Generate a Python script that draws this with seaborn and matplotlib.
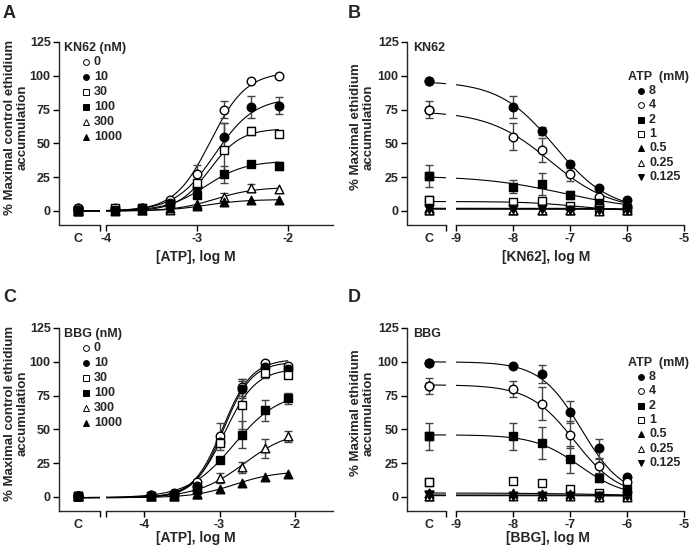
import numpy as np
import matplotlib
matplotlib.use("Agg")
import matplotlib.pyplot as plt
from matplotlib.lines import Line2D
import seaborn as sns

# ---- data ----
# x positions (log M); the control "C" point is shown on a separate axis segment
atp_x = [-3.9, -3.6, -3.3, -3.0, -2.7, -2.4, -2.1]
antag_x = [-8.0, -7.5, -7.0, -6.5, -6.0]

a_labels = ['0', '10', '30', '100', '300', '1000']
a_mean = [[2, 2, 2, 8, 27, 75, 96, 100],
          [0.5, 1, 2, 6, 18, 55, 77, 78],
          [1, 2, 2, 5, 21, 45, 59, 57],
          [1, 1, 2, 5, 12, 27, 35, 33],
          [0.5, 0.5, 1, 1, 5, 10, 17, 16],
          [0, 0, 1, 2, 4, 7, 8, 8]]
a_err = [[0, 0, 0, 0, 7, 6, 0, 0],
         [0, 0, 0, 0, 0, 10, 8, 6],
         [0, 0, 0, 0, 0, 20, 3, 0],
         [0, 0, 0, 0, 0, 6, 2, 3],
         [0, 0, 0, 0, 0, 3, 3, 0],
         [0, 0, 0, 0, 0, 0, 0, 0]]
# fitted curves: bottom, top, logEC50, hill slope
a_fit = [(0, 103, -2.85, 2.2), (0, 84, -2.8, 2.0), (0, 61, -2.86, 2.5),
         (0, 37, -2.9, 2.0), (0, 17.5, -2.8, 2.0), (0, 8.5, -2.9, 2.0)]

b_labels = ['8', '4', '2', '1', '0.5', '0.25', '0.125']
b_mean = [[96, 77, 59, 35, 17, 8],
          [75, 55, 45, 27, 10, 3],
          [26, 18, 20, 12, 6, 2],
          [8, 6.5, 7.5, 4, 2, 1],
          [2, 1, 1, 1, 1, 1],
          [1, 1, 1, 1, 0, 0.5],
          [1.5, 1.5, 1.5, 1, 1, 1]]
b_err = [[0, 8, 3, 2, 0, 0],
         [6, 10, 9, 5, 0, 0],
         [8, 5, 8, 3, 0, 0],
         [2, 0, 0, 0, 0, 0],
         [0, 0, 0, 0, 0, 0],
         [0, 0, 0, 0, 0, 0],
         [0, 0, 0, 0, 0, 0]]
# inhibition curves: top, logIC50, hill slope
b_fit = [(96, -7.27, 0.9), (74, -7.35, 0.8), (26, -7.1, 0.6), (7, -6.9, 1.0),
         (2, -5.5, 1.0), (1.5, -5.5, 1.0), (1.5, -5.5, 1.0)]

c_labels = ['0', '10', '30', '100', '300', '1000']
c_mean = [[0.5, 1.5, 3, 11, 45, 81, 99, 97],
          [0.5, 1.5, 2.5, 8, 41, 80, 96, 95],
          [0.5, 1, 1, 6, 40, 68, 92, 90],
          [0.5, 1, 1.5, 5, 27, 46, 64, 73],
          [0.5, 1, 1, 2, 14, 22, 36, 45],
          [0.5, 1, 1, 2, 6, 10, 15, 17]]
c_err = [[0, 0, 0, 0, 10, 6, 0, 0],
         [0, 0, 0, 0, 0, 7, 0, 0],
         [0, 0, 0, 0, 0, 18, 4, 0],
         [0, 0, 0, 0, 0, 10, 8, 4],
         [0, 0, 0, 0, 4, 4, 7, 4],
         [0, 0, 0, 0, 0, 0, 0, 0]]
c_fit = [(-0.5, 102, -2.96, 2.24), (-0.5, 100, -2.95, 2.3), (-0.5, 95, -2.935, 2.1),
         (-0.5, 78, -2.81, 1.45), (-0.5, 50, -2.675, 1.4), (-0.5, 19, -2.8, 1.6)]

d_labels = b_labels
d_mean = [[99, 97, 91, 63, 36, 15],
          [82, 80, 69, 46, 23, 11],
          [45, 45, 40, 28, 14, 6],
          [11, 11.5, 10, 6, 3, 1.5],
          [3, 3, 2, 2, 1, 1],
          [1, 0.5, 0.5, 0.5, 0, 0],
          [1.5, 1, 1, 1, 1, 1]]
d_err = [[0, 0, 7, 8, 7, 0],
         [6, 6, 12, 10, 5, 0],
         [10, 10, 12, 10, 3, 0],
         [0, 0, 0, 0, 0, 0],
         [0, 0, 0, 0, 0, 0],
         [0, 0, 0, 0, 0, 0],
         [0, 0, 0, 0, 0, 0]]
d_fit = [(100, -6.8, 1.2), (83, -6.92, 1.1), (46, -6.83, 1.1), None,
         (3, -6.0, 0.5), (1.5, -5.5, 0.8), (1.0, -5.5, 0.8)]

# marker styles (marker, facecolour)
agonist_styles = [('o', 'white'), ('o', 'black'), ('s', 'white'),
                  ('s', 'black'), ('^', 'white'), ('^', 'black')]
antag_styles = [('o', 'black'), ('o', 'white'), ('s', 'black'), ('s', 'white'),
                ('^', 'black'), ('^', 'white'), ('v', 'black')]

# ---- style ----
sns.set_theme(style='ticks')
plt.rcParams['font.family'] = ['Liberation Sans', 'DejaVu Sans']
plt.rcParams['font.weight'] = 'bold'
plt.rcParams['font.size'] = 9
plt.rcParams['axes.linewidth'] = 1.0

W, H = 693, 549
fig = plt.figure(figsize=(W / 100, H / 100), dpi=100)


def rect(l, t, r, b):
    return [l / W, 1 - b / H, (r - l) / W, (b - t) / H]


def ftext(x, y, s, **kw):
    fig.text(x / W, 1 - y / H, s, **kw)


def hill_up(x, p):
    bottom, top, ec50, h = p
    return bottom + (top - bottom) / (1 + 10 ** ((ec50 - x) * h))


def hill_down(x, p):
    top, ic50, h = p
    return top / (1 + 10 ** ((x - ic50) * h))


def make_axes(top, bottom, left_px, main_px, left_lim, main_lim, ticks, main_start_tick):
    ax_c = fig.add_axes(rect(left_px[0], top, left_px[1], bottom))
    ax_m = fig.add_axes(rect(main_px[0], top, main_px[1], bottom), sharey=ax_c)
    for ax in (ax_c, ax_m):
        ax.spines['top'].set_visible(False)
        ax.spines['right'].set_visible(False)
        ax.tick_params(direction='out', length=4, width=1, pad=2, labelsize=9, color='black')
        ax.tick_params(which='minor', direction='out', length=4, width=1, color='black')
        ax.set_facecolor('white')
        ax.grid(False)
    ax_m.spines['left'].set_visible(False)
    ax_m.tick_params(axis='y', left=False, labelleft=False)
    ax_c.set_ylim(-10, 125)
    ax_c.set_yticks([0, 25, 50, 75, 100, 125])
    ax_c.set_xlim(*left_lim)
    ax_m.set_xlim(*main_lim)
    ax_m.set_xticks(ticks)
    ax_m.set_xticklabels([f'{t:d}' for t in ticks])
    if main_start_tick:
        ax_m.set_xticks([main_lim[0]], minor=True)
    ax_c.set_xticks([left_lim[1]], minor=True)
    return ax_c, ax_m


def draw_series(axes, ctrl_x, xs, means, errs, fits, styles, curve_fn):
    x_all = [ctrl_x] + list(xs)
    for mean, err, fit, (mk, fc) in zip(means, errs, fits, styles):
        for ax in axes:
            if fit is not None:
                xf = np.linspace(ctrl_x, xs[-1], 300)
                sns.lineplot(x=xf, y=curve_fn(xf, fit), ax=ax, color='black',
                             lw=0.8, estimator=None, sort=False, zorder=1)
            e = np.array(err, dtype=float)
            has = e > 0
            if has.any():
                ax.errorbar(np.array(x_all)[has], np.array(mean)[has], yerr=e[has],
                            fmt='none', ecolor='#444444', elinewidth=1, capsize=3,
                            capthick=1, zorder=2)
            sns.scatterplot(x=x_all, y=mean, ax=ax, marker=mk, color=fc,
                            edgecolor='black', linewidth=1,
                            s=30 if mk == 's' else 38, zorder=3, clip_on=False
                            if ax is axes[1] else True)


def legend(x_title, y_title, title, x_mark, y0, dy, labels, styles):
    ftext(x_title, y_title, title, ha='left', va='center', fontsize=9, fontweight='bold')
    for i, (lab, (mk, fc)) in enumerate(zip(labels, styles)):
        y = y0 + i * dy
        fig.add_artist(Line2D([x_mark / W], [1 - y / H], transform=fig.transFigure,
                              marker=mk, ms=4.2 if mk != 's' else 3.8, mfc=fc,
                              mec='black', mew=0.7, lw=0))
        ftext(x_mark + 8, y, lab, ha='left', va='center', fontsize=9, fontweight='bold')


# ---- panel A ----
axA_c, axA_m = make_axes(42, 224.5, (59, 100), (106, 333), (-4.52, -4.07), (-4.0, -1.5),
                         [-4, -3, -2], False)
draw_series((axA_c, axA_m), -4.31, atp_x, a_mean, a_err, a_fit, agonist_styles, hill_up)

# ---- panel B ----
axB_c, axB_m = make_axes(42, 224.5, (407, 446), (456, 684), (-9.86, -9.175), (-9.0, -5.0),
                         [-9, -8, -7, -6, -5], False)
draw_series((axB_c, axB_m), -9.474, antag_x, b_mean, b_err, b_fit, antag_styles, hill_down)

# ---- panel C ----
axC_c, axC_m = make_axes(328, 510.5, (59, 100), (106, 333), (-5.14, -4.57), (-4.5, -1.5),
                         [-4, -3, -2], True)
draw_series((axC_c, axC_m), -4.874, atp_x, c_mean, c_err, c_fit, agonist_styles, hill_up)

# ---- panel D ----
axD_c, axD_m = make_axes(328, 510.5, (407, 446), (456, 684), (-9.86, -9.175), (-9.0, -5.0),
                         [-9, -8, -7, -6, -5], False)
draw_series((axD_c, axD_m), -9.474, antag_x, d_mean, d_err, d_fit, antag_styles, hill_down)

for ax_c, cx in ((axA_c, -4.31), (axB_c, -9.474), (axC_c, -4.874), (axD_c, -9.474)):
    ax_c.set_xticks([cx])
    ax_c.set_xticklabels(['C'])
    ax_c.tick_params(axis='x', which='major', length=0, pad=6)
    ax_c.set_xlabel('')
    ax_c.set_ylabel('')
for ax in (axA_m, axB_m, axC_m, axD_m):
    ax.set_xlabel('')
    ax.set_ylabel('')
    for lab in ax.get_xticklabels() + ax.get_yticklabels():
        lab.set_fontweight('bold')
for ax in (axA_c, axB_c, axC_c, axD_c):
    for lab in ax.get_xticklabels() + ax.get_yticklabels():
        lab.set_fontweight('bold')

# ---- text ----
ftext(3, 13, 'A', fontsize=13, fontweight='bold', ha='left', va='center')
ftext(348, 13, 'B', fontsize=13, fontweight='bold', ha='left', va='center')
ftext(3, 298, 'C', fontsize=13, fontweight='bold', ha='left', va='center')
ftext(348, 298, 'D', fontsize=13, fontweight='bold', ha='left', va='center')

ylab_ctrl = '% Maximal control ethidium\naccumulation'
ylab_max = '% Maximal ethidium\naccumulation'
for (x, y, s) in ((16, 127, ylab_ctrl), (362, 127, ylab_max),
                  (16, 413, ylab_ctrl), (362, 413, ylab_max)):
    ftext(x, y, s, rotation=90, ha='center', va='center', multialignment='center',
          fontsize=9.5, fontweight='bold', linespacing=1.05)

ftext(196, 257, '[ATP], log M', ha='center', va='center', fontsize=10, fontweight='bold')
ftext(546, 257, '[KN62], log M', ha='center', va='center', fontsize=10, fontweight='bold')
ftext(196, 538, '[ATP], log M', ha='center', va='center', fontsize=10, fontweight='bold')
ftext(548, 538, '[BBG], log M', ha='center', va='center', fontsize=10, fontweight='bold')

ftext(413, 48, 'KN62', ha='left', va='center', fontsize=9, fontweight='bold')
ftext(413, 334, 'BBG', ha='left', va='center', fontsize=9, fontweight='bold')

legend(64, 48, 'KN62 (nM)', 86, 62, 15, a_labels, agonist_styles)
legend(64, 334, 'BBG (nM)', 86, 348, 15, c_labels, agonist_styles)
legend(628, 77, 'ATP  (mM)', 641, 91, 14.3, b_labels, antag_styles)
legend(628, 363, 'ATP  (mM)', 641, 377, 14.3, d_labels, antag_styles)

fig.savefig('out.png', dpi=100, facecolor='white')
